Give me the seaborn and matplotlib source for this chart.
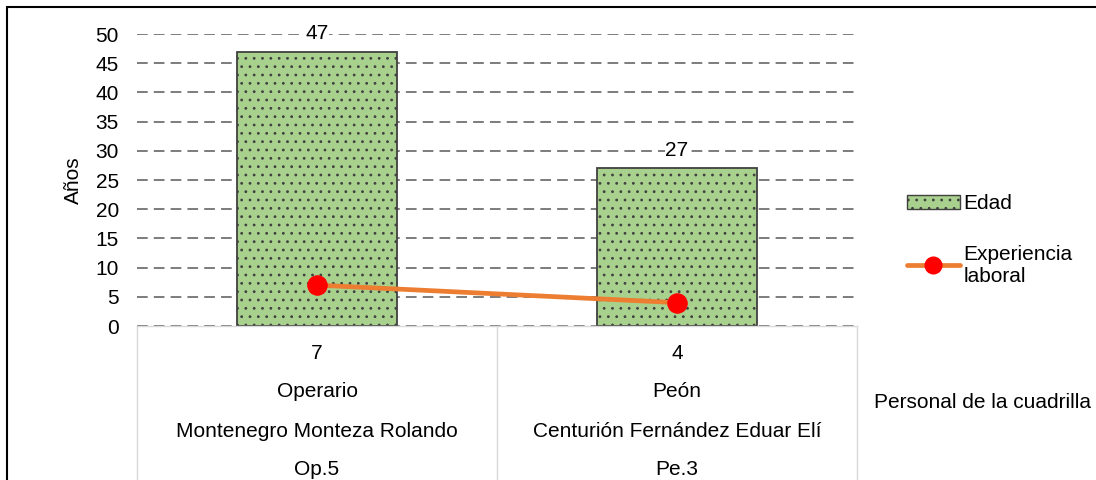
import matplotlib
matplotlib.use('Agg')
import matplotlib.pyplot as plt
import matplotlib.transforms as mtransforms
from matplotlib.patches import Patch, Rectangle
from matplotlib.lines import Line2D
import seaborn as sns
import pandas as pd

# data
puestos = ['Operario', 'Peón']
nombres = ['Montenegro Monteza Rolando', 'Centurión Fernández Eduar Elí']
codigos = ['Op.5', 'Pe.3']
edad = [47, 27]
experiencia = [7, 4]

sns.set_style('white')
plt.rcParams['font.family'] = ['Liberation Sans', 'DejaVu Sans']
plt.rcParams['font.size'] = 15
plt.rcParams['text.color'] = 'black'
plt.rcParams['ytick.color'] = 'black'
plt.rcParams['hatch.color'] = 'black'
plt.rcParams['hatch.linewidth'] = 0.8

FS = 15

fig = plt.figure(figsize=(10.96, 4.8), dpi=100)
ax = fig.add_axes([137 / 1096, 1 - 326 / 480, 720 / 1096, 292 / 480])

df = pd.DataFrame({'codigo': codigos, 'edad': edad, 'exp': experiencia})

green = '#A9D18E'
orange = '#ED7D31'
sns.barplot(data=df, x='codigo', y='edad', color=green, width=0.444,
            edgecolor='#404040', linewidth=1.3, saturation=1, ax=ax, zorder=2)
for p in ax.patches:
    p.set_hatch('..')
    p.set_facecolor(green)
    if hasattr(p, 'set_hatchcolor'):
        p.set_hatchcolor('black')

ax.bar_label(ax.containers[0], padding=6, fontsize=FS,
             bbox=dict(facecolor='white', edgecolor='none', pad=0.5))

sns.lineplot(x=[0, 1], y=df['exp'], color=orange, linewidth=3.4, marker='o',
             markersize=14, markerfacecolor='red', markeredgecolor='red',
             ax=ax, zorder=4)

ax.set_xlim(-0.5, 1.5)
ax.set_ylim(0, 50)
ax.set_yticks(range(0, 51, 5))
ax.yaxis.grid(True, linestyle=(0, (7, 4)), color='#595959', linewidth=1.1)
ax.set_axisbelow(True)
for s in ['top', 'right', 'left']:
    ax.spines[s].set_visible(False)
ax.spines['bottom'].set_color('#d9d9d9')
ax.spines['bottom'].set_linewidth(1)
ax.tick_params(axis='y', length=0, pad=13, labelsize=FS)
ax.set_xticks([])
ax.set_xlabel('')
ax.set_ylabel('')
if ax.get_legend():
    ax.get_legend().remove()

# table under the axis
trans = mtransforms.blended_transform_factory(ax.transData, ax.transAxes)
for xv in [-0.5, 0.5, 1.5]:
    ax.plot([xv, xv], [0, -0.7], transform=trans, color='#d9d9d9',
            linewidth=1, clip_on=False)
rows_y = [-0.093, -0.226, -0.363, -0.493]
for i in range(len(codigos)):
    vals = [str(experiencia[i]), puestos[i], nombres[i], codigos[i]]
    for yv, txt in zip(rows_y, vals):
        ax.text(i, yv, txt, transform=trans, ha='center', va='center',
                fontsize=FS, clip_on=False)

fig.text(982 / 1096, 1 - 402 / 480, 'Personal de la cuadrilla',
         ha='center', va='center', fontsize=FS)
fig.text(73 / 1096, 1 - 180 / 480, 'Años', rotation=90,
         ha='center', va='center', fontsize=FS)

handles = [
    Patch(facecolor=green, edgecolor='#404040', hatch='..', label='Edad'),
    Line2D([0], [0], color=orange, linewidth=3.4, marker='o', markersize=12,
           markerfacecolor='red', markeredgecolor='red',
           label='Experiencia\nlaboral'),
]
fig.legend(handles=handles, loc='upper left', frameon=False,
           bbox_to_anchor=(897 / 1096, 1 - 184 / 480), borderpad=0,
           handlelength=2.5, handletextpad=0.2, labelspacing=1.5,
           fontsize=FS)

# outer frame
fig.add_artist(Rectangle((7 / 1096, -0.1), 1.2, 1 - 7 / 480 + 0.1,
                         transform=fig.transFigure, fill=False,
                         edgecolor='black', linewidth=1.5))

fig.savefig('out.png', dpi=100)
